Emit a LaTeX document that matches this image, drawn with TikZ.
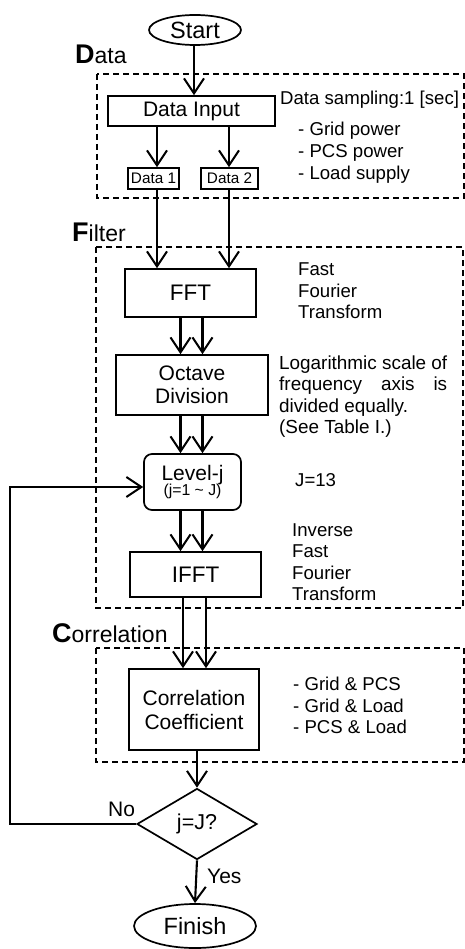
\documentclass[tikz,border=0pt]{standalone}
\usepackage{fontspec}
\setmainfont{Liberation Sans}
\usetikzlibrary{arrows.meta,shapes.geometric}
\newcommand{\fsz}[1]{\fontsize{#1}{#1}\selectfont}
\begin{document}
\begin{tikzpicture}[x=1pt,y=-1pt,
  box/.style={draw,line width=1.7pt,inner sep=0pt,align=center},
  arr/.style={line width=2.1pt,-{Straight Barb[length=15pt,width=20pt,line width=2pt]}},
  grp/.style={draw,line width=1.5pt,dash pattern=on 6pt off 4pt},
  side/.style={anchor=base west,inner sep=0pt,font=\fsz{18.6}},
  lbl/.style={anchor=base west,inner sep=0pt}]
\useasboundingbox[fill=white] (0,0) rectangle (465,949);

% group boxes
\draw[grp] (97,74) rectangle (464,198);
\draw[grp] (96,247) rectangle (463,608);
\draw[grp] (96,648) rectangle (464,762);

\node[lbl] (ldata) at (75,64) {{\fsz{27}\bfseries D}{\fsz{23}ata}};
\node[lbl] (lfilt) at (72,242) {{\fsz{27}\bfseries F}{\fsz{23}ilter}};
\node[lbl] (lcorr) at (52,642) {{\fsz{27}\bfseries C}{\fsz{23}orrelation}};

% main nodes
\node[draw,ellipse,line width=1.7pt,minimum width=92pt,minimum height=30pt,inner sep=0pt,font=\fsz{23.5}] (start) at (195,30) {Start};
\node[box,minimum width=167pt,minimum height=30pt,font=\fsz{21}] (datain) at (191.5,111) {Data Input};
\node[box,minimum width=51pt,minimum height=21pt,font=\fsz{15.3}] (d1) at (153.5,178.5) {Data 1};
\node[box,minimum width=57pt,minimum height=21pt,font=\fsz{15.3}] (d2) at (229.5,178.5) {Data 2};
\node[box,minimum width=131pt,minimum height=48pt,font=\fsz{22.5}] (fft) at (190.5,293) {FFT};
\node[box,minimum width=152pt,minimum height=60pt,font=\fontsize{21}{23}\selectfont] (oct) at (192,385) {Octave\\Division};
\node[box,rounded corners=8pt,minimum width=97pt,minimum height=56pt] (lev) at (192.5,482) {{\fontsize{21}{22}\selectfont Level-j}\\[-1pt]{\fsz{15.8}(j=1 \char"007E{} J)}};
\node[box,minimum width=131pt,minimum height=45pt,font=\fsz{22.5}] (ifft) at (195.5,574.5) {IFFT};
\node[box,minimum width=130pt,minimum height=81pt,font=\fontsize{21}{24}\selectfont] (cc) at (194,709.5) {Correlation\\Coefficient};
\node[draw,diamond,line width=1.7pt,minimum width=120pt,minimum height=71pt,inner sep=0pt,font=\fsz{21.5}] (dec) at (197,824) {j=J?};
\node[draw,ellipse,line width=1.7pt,minimum width=122pt,minimum height=44pt,inner sep=0pt,font=\fsz{23.5}] (fin) at (195,926) {Finish};

% column coordinates
\coordinate (c1) at (157,0);
\coordinate (c2) at (229,0);
\coordinate (c3) at (180.5,0);
\coordinate (c4) at (202.5,0);
\coordinate (c5) at (183,0);
\coordinate (c6) at (206,0);
\coordinate (c7) at (197,0);
\coordinate (loopx) at (10,0);
\coordinate (loopy) at (0,487);

% connectors
\draw[arr] (start.south -| datain.north) ++(2.5,0) coordinate (s0) -- (s0 |- datain.north);
\draw[arr] (datain.south -| c1) -- (d1.north -| c1);
\draw[arr] (datain.south -| c2) -- (d2.north -| c2);
\draw[arr] (d1.south -| c1) -- (fft.north -| c1);
\draw[arr] (d2.south -| c2) -- (fft.north -| c2);
\draw[arr] (fft.south -| c3) -- (oct.north -| c3);
\draw[arr] (fft.south -| c4) -- (oct.north -| c4);
\draw[arr] (oct.south -| c3) -- (lev.north -| c3);
\draw[arr] (oct.south -| c4) -- (lev.north -| c4);
\draw[arr] (lev.south -| c3) -- (ifft.north -| c3);
\draw[arr] (lev.south -| c4) -- (ifft.north -| c4);
\draw[arr] (ifft.south -| c5) -- (cc.north -| c5);
\draw[arr] (ifft.south -| c6) -- (cc.north -| c6);
\draw[arr] (cc.south -| c7) -- (dec.north);
\draw[arr] (dec.south) -- (fin.north);
\draw[arr] (dec.west) -| (loopx |- loopy) -- (lev.west |- loopy);

\node[lbl,font=\fsz{21}] (no) at (108,816) {No};
\node[lbl,font=\fsz{21}] (yes) at (207,883) {Yes};

% side texts
\node[side] (t1) at (280,105) {Data sampling:1 [sec]};
\node[side] (t2) at (298,136) {- Grid power};
\node[side] (t3) at (298,158) {- PCS power};
\node[side] (t4) at (298,180) {- Load supply};

\node[side] (f1) at (298,276) {Fast};
\node[side] (f2) at (298,297) {Fourier};
\node[side] (f3) at (298,318) {Transform};

\node[side,font=\fsz{18.9}] (o1) at (279,369) {Logarithmic scale of};
\node[side,font=\fsz{18.9}] (o2) at (279,390.5) {\makebox[168pt][s]{frequency axis is}};
\node[side,font=\fsz{18.9}] (o3) at (279,412) {divided equally.};
\node[side,font=\fsz{18.9}] (o4) at (279,433.5) {(See Table I.)};

\node[side] (j1) at (295,486) {J=13};

\node[side] (i1) at (292,536) {Inverse};
\node[side] (i2) at (292,557.5) {Fast};
\node[side] (i3) at (292,579) {Fourier};
\node[side] (i4) at (292,600) {Transform};

\node[side] (k1) at (293,690) {- Grid \& PCS};
\node[side] (k2) at (293,712) {- Grid \& Load};
\node[side] (k3) at (293,733) {- PCS \& Load};
\end{tikzpicture}
\end{document}
